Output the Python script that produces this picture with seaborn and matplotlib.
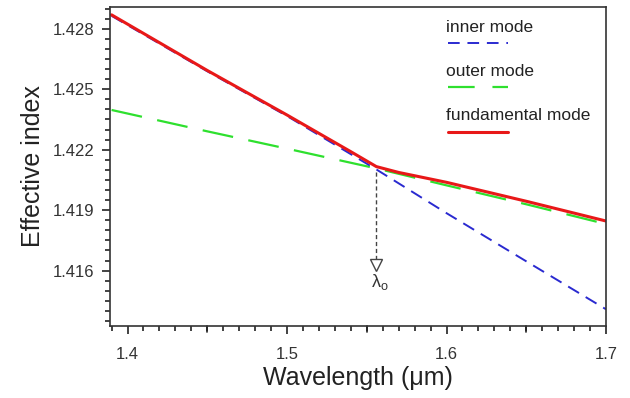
import matplotlib
matplotlib.use("Agg")
import matplotlib.pyplot as plt
import seaborn as sns
import pandas as pd
import numpy as np
from matplotlib.ticker import MultipleLocator, FixedLocator

# ---- data ----
wl_inner = [1.39, 1.45, 1.50, 1.556, 1.60, 1.65, 1.70]
n_inner = [1.42864, 1.42589, 1.42367, 1.42102, 1.41885, 1.41646, 1.41408]

wl_outer = [1.39, 1.45, 1.50, 1.556, 1.60, 1.65, 1.70]
n_outer = [1.42397, 1.42291, 1.42205, 1.42107, 1.42023, 1.41929, 1.41831]

wl_fund = [1.39, 1.45, 1.50, 1.54, 1.556, 1.57, 1.60, 1.65, 1.70]
n_fund = [1.42869, 1.42593, 1.42372, 1.42190, 1.42116, 1.42087, 1.42038, 1.41944, 1.41846]

lambda0 = 1.556
arrow_top = 1.4209
arrow_bottom = 1.4161
label_y = 1.41545

xticks = [1.4, 1.5, 1.6, 1.7]
xmid_ticks = [1.45, 1.55, 1.65]
yticks = [1.416, 1.419, 1.422, 1.425, 1.428]

sns.set_style("white")
plt.rcParams['font.family'] = ['Liberation Sans', 'DejaVu Sans']
plt.rcParams['mathtext.fontset'] = 'custom'
plt.rcParams['mathtext.rm'] = 'Liberation Sans'
plt.rcParams['mathtext.it'] = 'Liberation Sans'

fig = plt.figure(figsize=(6.3, 3.98), dpi=100)
ax = fig.add_axes([110/630, 1 - 326/398, (606-110)/630, (326-7)/398])

df_i = pd.DataFrame({"wl": wl_inner, "n": n_inner})
df_o = pd.DataFrame({"wl": wl_outer, "n": n_outer})
df_f = pd.DataFrame({"wl": wl_fund, "n": n_fund})

blue = "#2a2ad0"
green = "#2ee02e"
red = "#e81818"

sns.lineplot(data=df_o, x="wl", y="n", ax=ax, color=green, lw=1.6,
             estimator=None, sort=False).lines[-1].set_dashes([14, 7])
l_in = sns.lineplot(data=df_i, x="wl", y="n", ax=ax, color=blue, lw=1.4,
                    estimator=None, sort=False).lines[-1]
l_in.set_dashes([6.5, 4])
sns.lineplot(data=df_f, x="wl", y="n", ax=ax, color=red, lw=2.2,
             estimator=None, sort=False)

# lambda_0 arrow
ax.plot([lambda0, lambda0], [arrow_top, arrow_bottom + 0.0002], color="#444444",
        lw=1.0, ls=(0, (3, 2)))
ax.plot([lambda0], [arrow_bottom + 0.0002], marker="v", ms=8, mfc="white",
        mec="#444444", mew=1.0)
ax.text(lambda0 + 0.002, label_y, r"$\lambda_\mathregular{o}$", ha="center", va="center",
        fontsize=13, color="#333333")

ax.set_xlim(1.389, 1.700)
ax.set_ylim(1.41325, 1.42908)
ax.xaxis.set_major_locator(FixedLocator(xticks))
ax.yaxis.set_major_locator(FixedLocator(yticks))
ax.xaxis.set_minor_locator(MultipleLocator(0.01))
ax.yaxis.set_minor_locator(MultipleLocator(0.0005))
ax.set_xticklabels([f"{v:.1f}" for v in xticks])
ax.set_yticklabels([f"{v:.3f}" for v in yticks])
ax.tick_params(which="major", direction="out", length=6, width=1.2, colors="#222222",
               labelsize=12, labelcolor="#333333", bottom=True, left=True)
ax.tick_params(axis="x", which="major", pad=9)
ax.tick_params(axis="y", which="major", pad=5)
ax.tick_params(which="minor", direction="out", length=3.5, width=1.2, colors="#222222",
               bottom=True, left=True)
# medium ticks at half-steps on x
for xv in xmid_ticks:
    ax.plot([xv, xv], [0, -0.018], transform=ax.get_xaxis_transform(),
            color="#222222", lw=1.2, clip_on=False)
for s in ax.spines.values():
    s.set_color("#333333")
    s.set_linewidth(1.2)

ax.set_xlabel("Wavelength (\u03bcm)", fontsize=18, color="#222222", labelpad=3)
ax.set_ylabel("Effective index", fontsize=18, color="#222222", labelpad=6)

# legend (text above line samples)
entries = [("inner mode", blue, [6, 4], 1.4),
           ("outer mode", green, [12, 8], 1.6),
           ("fundamental mode", red, None, 2.2)]
x0 = (446 - 110) / 496
for i, (lab, col, dash, lw) in enumerate(entries):
    ty = 1 - (27 + 44 * i - 7) / 319
    ly = 1 - (43 + 44.5 * i - 7) / 319
    ax.text(x0, ty, lab, transform=ax.transAxes, fontsize=12.5, color="#222222",
            va="center", ha="left")
    ln, = ax.plot([x0 + 0.004, x0 + 0.125], [ly, ly], transform=ax.transAxes,
                  color=col, lw=lw)
    if dash:
        ln.set_dashes(dash)

fig.savefig("out.png", dpi=100)
